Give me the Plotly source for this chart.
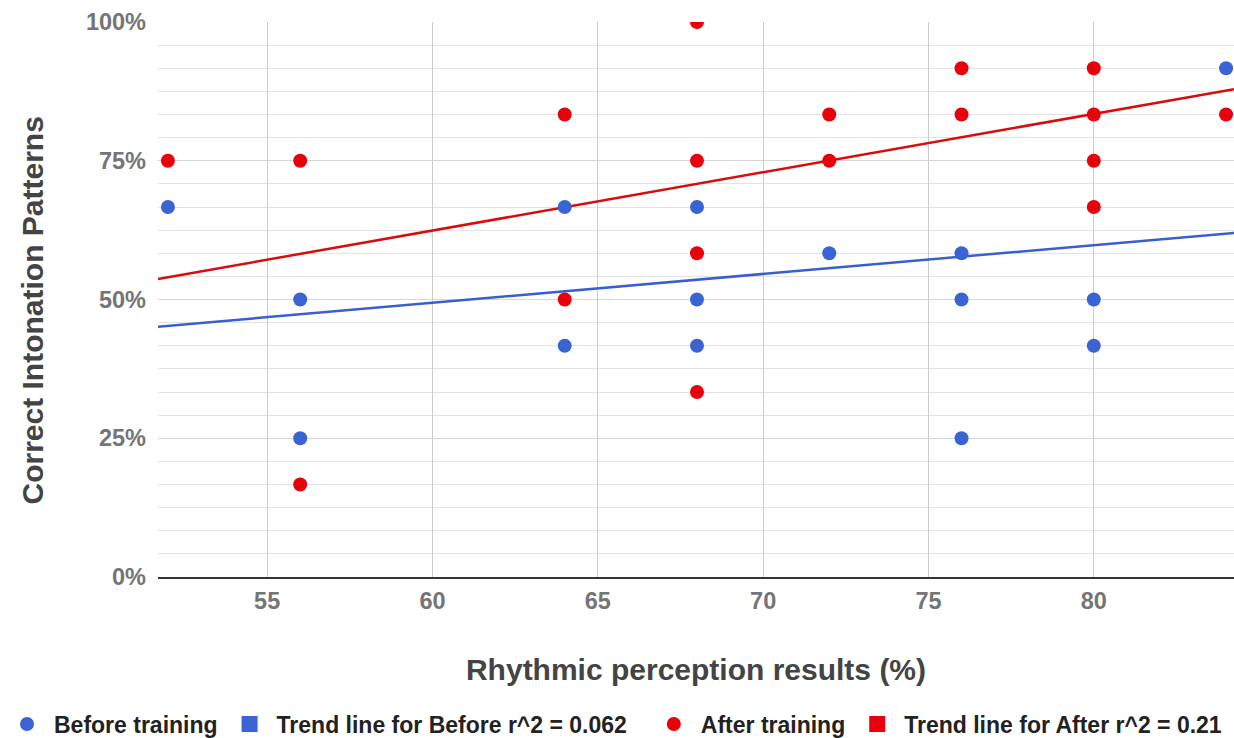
import plotly.graph_objects as go

# Data (values in %)
x_before = [52, 56, 56, 64, 64, 68, 68, 68, 72, 76, 76, 76, 80, 80, 84]
y_before = [66.67, 50, 25, 66.67, 41.67, 66.67, 50, 41.67, 58.33, 58.33, 50, 25, 50, 41.67, 91.67]

x_after = [52, 56, 56, 64, 64, 68, 68, 68, 68, 72, 72, 76, 76, 80, 80, 80, 80, 84]
y_after = [75, 75, 16.67, 83.33, 50, 100, 75, 58.33, 33.33, 83.33, 75, 91.67, 83.33,
           91.67, 83.33, 75, 66.67, 83.33]

trend_x = [51.7, 84.24]
trend_before = [45.1, 62.0]
trend_after = [53.7, 87.9]

legend_names = ["Before training", "Trend line for Before r^2 = 0.062",
                "After training", "Trend line for After r^2 = 0.21"]

BLUE = "#3a64d4"
RED = "#e8000b"
BLUE_LINE = "#3a5fcc"
RED_LINE = "#d90c0c"

fig = go.Figure()

# trend lines (drawn below points)
fig.add_trace(go.Scatter(x=trend_x, y=trend_before, mode="lines",
                         line=dict(color=BLUE_LINE, width=2.5),
                         showlegend=False, hoverinfo="skip"))
fig.add_trace(go.Scatter(x=trend_x, y=trend_after, mode="lines",
                         line=dict(color=RED_LINE, width=2.5),
                         showlegend=False, hoverinfo="skip"))

# legend entries in order
fig.add_trace(go.Scatter(x=x_before, y=y_before, mode="markers", name=legend_names[0],
                         marker=dict(color=BLUE, size=14), legend="legend"))
fig.add_trace(go.Scatter(x=[None], y=[None], mode="markers", name=legend_names[1],
                         marker=dict(color=BLUE, size=16, symbol="square"), legend="legend"))
fig.add_trace(go.Scatter(x=x_after, y=y_after, mode="markers", name=legend_names[2],
                         marker=dict(color=RED, size=14), legend="legend2"))
fig.add_trace(go.Scatter(x=[None], y=[None], mode="markers", name=legend_names[3],
                         marker=dict(color=RED, size=16, symbol="square"), legend="legend2"))

FONT = "Liberation Sans, Arial, sans-serif"
legend_font = dict(family=FONT, size=23, color="#222222", weight="bold")

fig.update_layout(
    width=1234, height=738,
    margin=dict(l=158, r=0, t=22, b=161),
    paper_bgcolor="white", plot_bgcolor="white",
    font=dict(family=FONT),
    showlegend=True,
    legend=dict(orientation="h", xref="container", yref="container",
                x=0.0, xanchor="left", y=0.048, yanchor="top",
                itemwidth=44, font=legend_font,
                itemsizing="trace", bgcolor="rgba(0,0,0,0)"),
    legend2=dict(orientation="h", xref="container", yref="container",
                 x=0.995, xanchor="right", y=0.048, yanchor="top",
                 itemwidth=44, font=legend_font,
                 itemsizing="trace", bgcolor="rgba(0,0,0,0)"),
    xaxis=dict(
        range=[51.7, 84.24], dtick=5, tick0=50,
        showgrid=True, gridcolor="#cccccc", gridwidth=1,
        zeroline=False, showline=True, linecolor="#333333", linewidth=1.5,
        ticks="", ticklen=0, ticklabelstandoff=2,
        tickfont=dict(family=FONT, size=23.5, color="#757575", weight="bold"),
        title=dict(text="Rhythmic perception results (%)", standoff=46,
                   font=dict(family=FONT, size=30, color="#444444", weight="bold")),
    ),
    yaxis=dict(
        range=[0, 100], dtick=25, tick0=0, ticksuffix="%",
        showgrid=True, gridcolor="#d6d6d6", gridwidth=1,
        minor=dict(dtick=25 / 6, showgrid=True, gridcolor="#e3e3e3", gridwidth=1),
        zeroline=False, showline=False,
        ticks="", ticklen=0, ticklabelstandoff=11,
        tickfont=dict(family=FONT, size=23.5, color="#757575", weight="bold"),
    ),
    annotations=[dict(
        text="Correct Intonation Patterns", textangle=-90,
        xref="paper", yref="paper", x=0, y=0.5, xanchor="center", yanchor="middle",
        xshift=-126, yshift=-11, showarrow=False,
        font=dict(family=FONT, size=30, color="#444444", weight="bold"),
    )],
)

fig.write_html("out.html")
